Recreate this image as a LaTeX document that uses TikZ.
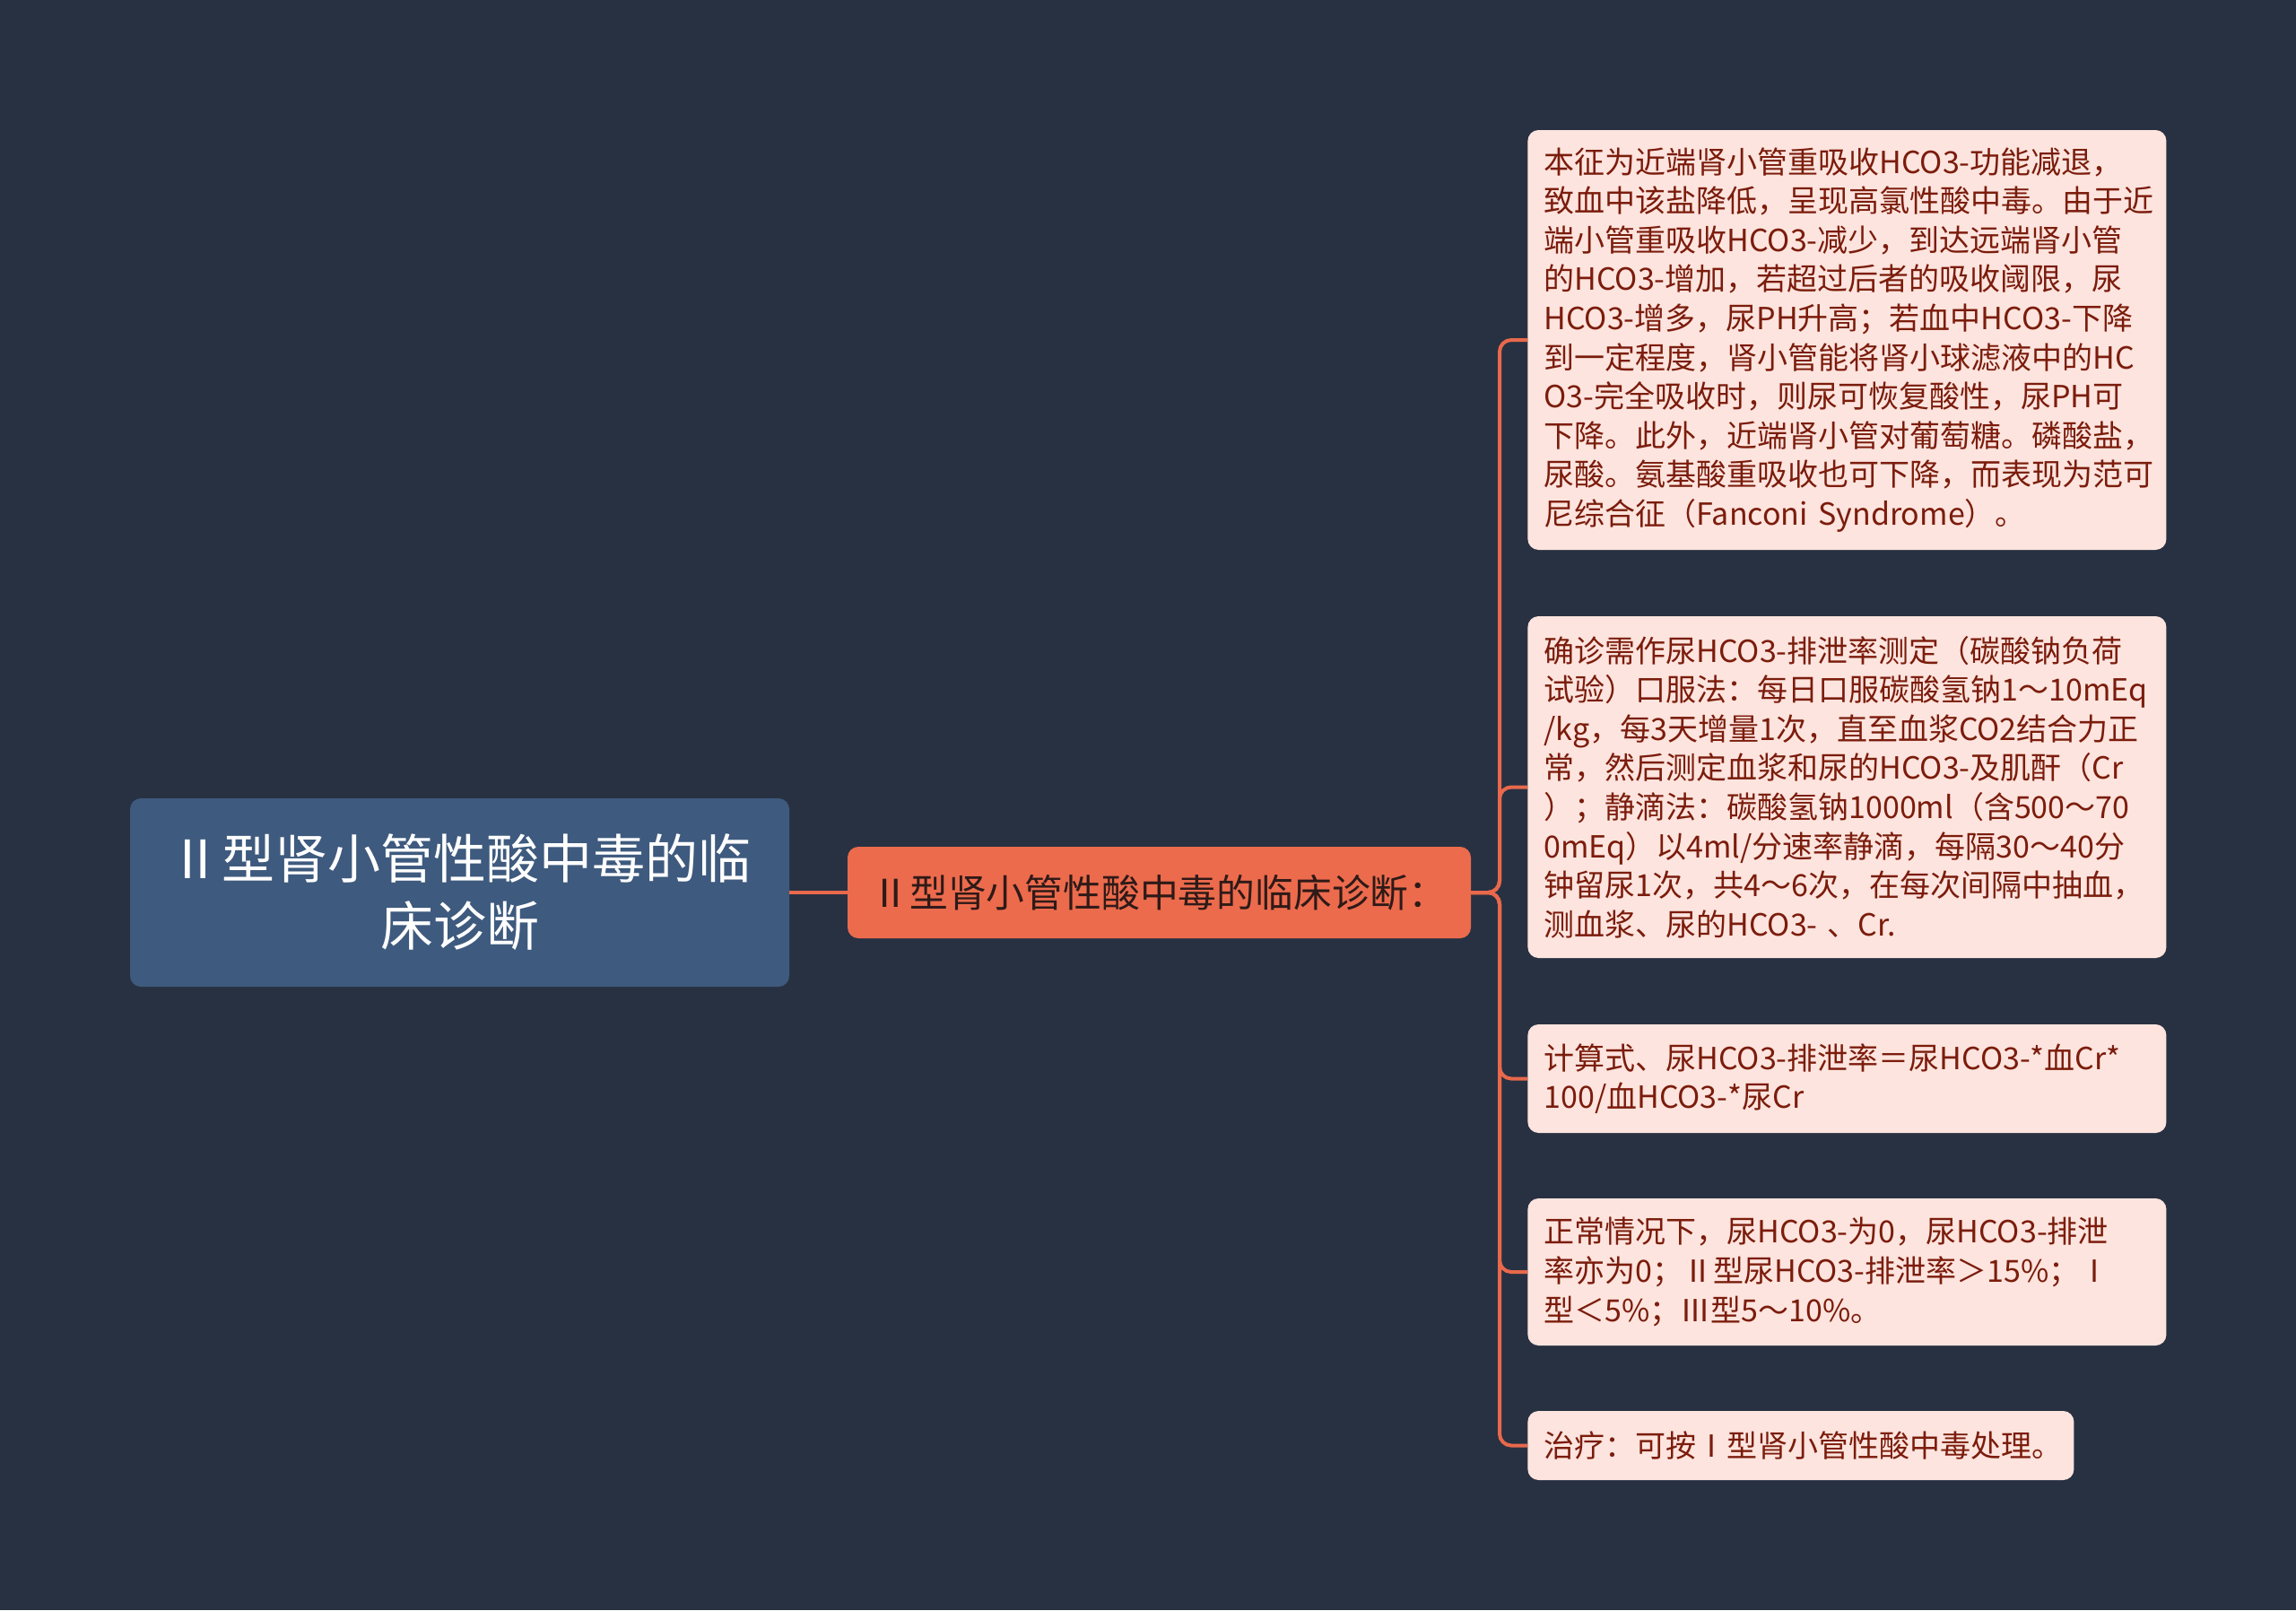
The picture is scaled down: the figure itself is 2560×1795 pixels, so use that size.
\documentclass[tikz,border=0pt]{standalone}
\usepackage{fontspec}
\setmainfont{Noto Sans CJK SC}
\definecolor{bgc}{HTML}{283142}
\definecolor{rootc}{HTML}{3E5A7E}
\definecolor{midc}{HTML}{EC6B4C}
\definecolor{midtxt}{HTML}{2E1A18}
\definecolor{leafc}{HTML}{FDE4DE}
\definecolor{leaftxt}{HTML}{7B1C0C}
\definecolor{connc}{HTML}{E8694B}
\tikzset{
  rootbox/.style={fill=rootc, rounded corners=6pt, text=white, align=center,
    minimum width=367.5pt, minimum height=105pt, inner sep=0pt,
    font=\fontsize{29.5}{37.5}\selectfont},
  midbox/.style={fill=midc, rounded corners=6pt, text=midtxt, align=center,
    minimum width=347.5pt, minimum height=51pt, inner sep=0pt,
    font=\fontsize{21.4}{26}\selectfont},
  leafbox/.style={fill=leafc, rounded corners=6pt, text=leaftxt, align=left,
    anchor=west, inner xsep=9pt, inner ysep=0pt,
    font=\fontsize{17}{21.8}\selectfont},
  conn/.style={draw=connc, line width=2pt},
}
\begin{document}
\begin{tikzpicture}[x=0.5pt,y=-0.5pt]
\fill[bgc] (0,0) rectangle (2560,1795);
\useasboundingbox (0,0) rectangle (2560,1795);

\node[rootbox] (root) at (512.5,995) {Ⅱ型肾小管性酸中毒的临\\床诊断};
\node[midbox] (mid) at (1292.5,995) {Ⅱ型肾小管性酸中毒的临床诊断：};

\node[leafbox, minimum width=356pt, text width=338pt, minimum height=234pt] (b1) at (1703,379)
{本征为近端肾小管重吸收HCO3-功能减退，\\
致血中该盐降低，呈现高氯性酸中毒。由于近\\
端小管重吸收HCO3-减少，到达远端肾小管\\
的HCO3-增加，若超过后者的吸收阈限，尿\\
HCO3-增多，尿PH升高；若血中HCO3-下降\\
到一定程度，肾小管能将肾小球滤液中的HC\\
O3-完全吸收时，则尿可恢复酸性，尿PH可\\
下降。此外，近端肾小管对葡萄糖。磷酸盐，\\
尿酸。氨基酸重吸收也可下降，而表现为范可\\
尼综合征（Fanconi Syndrome）。};

\node[leafbox, minimum width=356pt, text width=338pt, minimum height=190.5pt] (b2) at (1703,877.5)
{确诊需作尿HCO3-排泄率测定（碳酸钠负荷\\
试验）口服法：每日口服碳酸氢钠1～10mEq\\
/kg，每3天增量1次，直至血浆CO2结合力正\\
常，然后测定血浆和尿的HCO3-及肌酐（Cr\\
）；静滴法：碳酸氢钠1000ml（含500～70\\
0mEq）以4ml/分速率静滴，每隔30～40分\\
钟留尿1次，共4～6次，在每次间隔中抽血，\\
测血浆、尿的HCO3- 、Cr.};

\node[leafbox, minimum width=356pt, text width=338pt, minimum height=60.5pt] (b3) at (1703,1202.5)
{计算式、尿HCO3-排泄率＝尿HCO3-*血Cr*\\
100/血HCO3-*尿Cr};

\node[leafbox, minimum width=356pt, text width=338pt, minimum height=82pt] (b4) at (1703,1418)
{正常情况下，尿HCO3-为0，尿HCO3-排泄\\
率亦为0；Ⅱ型尿HCO3-排泄率＞15\%；Ⅰ\\
型＜5\%；Ⅲ型5～10\%。};

\node[leafbox, minimum width=304.5pt, text width=286.5pt, minimum height=38.5pt] (b5) at (1703,1611.5)
{治疗：可按Ⅰ型肾小管性酸中毒处理。};

\draw[conn] (root.east) -- (mid.west);
\coordinate (tr) at (1672,995);
\foreach \b in {b1,b2,b3,b4,b5}{
  \draw[conn, rounded corners=6.5pt] (mid.east) -- (tr) |- (\b.west);
}
\end{tikzpicture}
\end{document}
